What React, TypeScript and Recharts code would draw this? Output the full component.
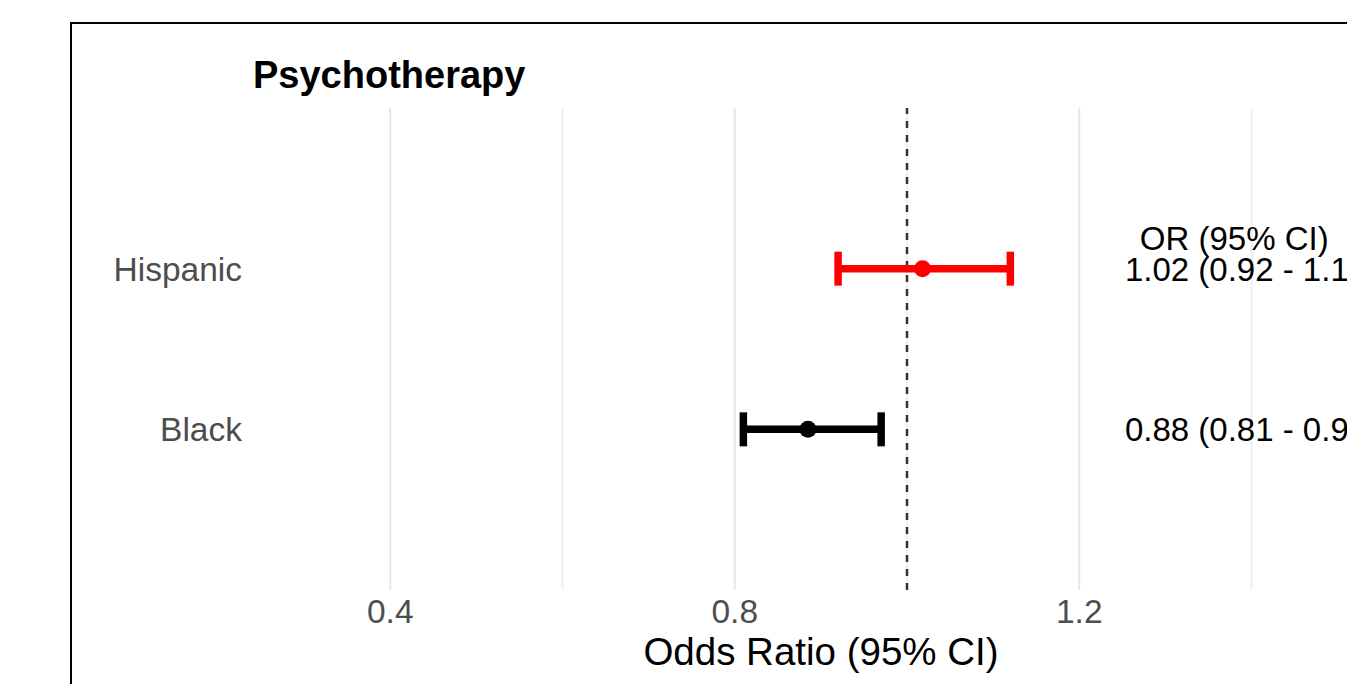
import React from 'react';
import {
  ComposedChart,
  Scatter,
  ErrorBar,
  XAxis,
  YAxis,
  ReferenceLine,
} from 'recharts';

const groups = ['Hispanic', 'Black'];
const oddsRatios = [1.018, 0.885];
const lowerCI = [0.92, 0.81];
const upperCI = [1.12, 0.97];
const groupColors = ['#FF0000', '#000000'];
const ciLabels = ['1.02 (0.92 - 1.12)', '0.88 (0.81 - 0.97)'];
const headerLabel = 'OR (95% CI)';
const xTicks = [0.4, 0.6, 0.8, 1.0, 1.2, 1.4];
const xTickLabels = [0.4, 0.8, 1.2];

const FONT = '"Liberation Sans", Arial, sans-serif';

// rows counted from the bottom: first group on top
const rowY = (i: number) => groups.length - i;

const rows = groups.map((g, i) => ({
  name: g,
  x: oddsRatios[i],
  y: rowY(i),
  err: [oddsRatios[i] - lowerCI[i], upperCI[i] - oddsRatios[i]],
}));

const textRows = [
  { x: 1.38, y: rowY(0) + 0.19, text: headerLabel },
  ...groups.map((g, i) => ({ x: 1.4, y: rowY(i), text: ciLabels[i] })),
];

const YTick = (props: any) => {
  const { x, y, payload } = props;
  const idx = groups.length - payload.value;
  return (
    <text x={x + 32} y={y + 12} textAnchor="end" fontSize={33.5} fill="#4D4D4D" fontFamily={FONT}>
      {groups[idx]}
    </text>
  );
};

const XTick = (props: any) => {
  const { x, y, payload } = props;
  if (!xTickLabels.includes(payload.value)) return null;
  return (
    <text x={x} y={y + 25} textAnchor="middle" fontSize={33.5} fill="#4D4D4D" fontFamily={FONT}>
      {payload.value.toFixed(1)}
    </text>
  );
};

const TextShape = (props: any) => {
  const { cx, cy, payload } = props;
  return (
    <text x={cx} y={cy + 12} textAnchor="middle" fontSize={33} fill="#000" fontFamily={FONT}>
      {payload.text}
    </text>
  );
};

export default function App() {
  return (
    <div
      style={{
        position: 'fixed',
        left: 0,
        top: 0,
        width: 1347,
        height: 684,
        overflow: 'hidden',
        background: '#fff',
      }}
    >
      <div
        style={{
          position: 'absolute',
          left: 70,
          top: 22,
          width: 3000,
          height: 3000,
          borderLeft: '2px solid #000',
          borderTop: '2px solid #000',
        }}
      />
      <div
        style={{
          position: 'absolute',
          left: 253,
          top: 56,
          fontFamily: FONT,
          fontWeight: 'bold',
          fontSize: 38,
          lineHeight: 1,
          color: '#000',
          whiteSpace: 'nowrap',
        }}
      >
        Psychotherapy
      </div>
      <div style={{ position: 'absolute', left: 0, top: 0 }}>
        <ComposedChart
          width={1596}
          height={684}
          margin={{ top: 108, right: 0, left: 0, bottom: 0 }}
        >
          {xTicks.map((t) => (
            <ReferenceLine
              key={t}
              x={t}
              stroke={xTickLabels.includes(t) ? '#E6E6E6' : '#EFEFEF'}
              strokeWidth={2}
            />
          ))}
          <XAxis
            type="number"
            dataKey="x"
            domain={[0.2, 1.8]}
            ticks={xTicks}
            interval={0}
            axisLine={false}
            tickLine={false}
            height={94}
            tick={<XTick />}
            label={{
              content: (p: any) => {
                const vb = p.viewBox;
                return (
                  <text x={821} y={vb.y + vb.height - 19} textAnchor="middle" fontSize={38.5} fill="#000" fontFamily={FONT}>
                    Odds Ratio (95% CI)
                  </text>
                );
              },
            }}
          />
          <YAxis
            type="number"
            dataKey="y"
            domain={[0, 3]}
            ticks={[1, 2]}
            width={218}
            axisLine={false}
            tickLine={false}
            tick={<YTick />}
          />
          <ReferenceLine x={1} stroke="#333" strokeWidth={2.5} strokeDasharray="7 7" />
          {rows.map((r, i) => (
            <Scatter
              key={r.name}
              data={[r]}
              isAnimationActive={false}
              shape={(p: any) => <circle cx={p.cx} cy={p.cy} r={8.5} fill={groupColors[i]} />}
            >
              <ErrorBar dataKey="err" direction="x" width={17} strokeWidth={7.5} stroke={groupColors[i]} />
            </Scatter>
          ))}
          <Scatter data={textRows} isAnimationActive={false} shape={<TextShape />} />
        </ComposedChart>
      </div>
    </div>
  );
}
